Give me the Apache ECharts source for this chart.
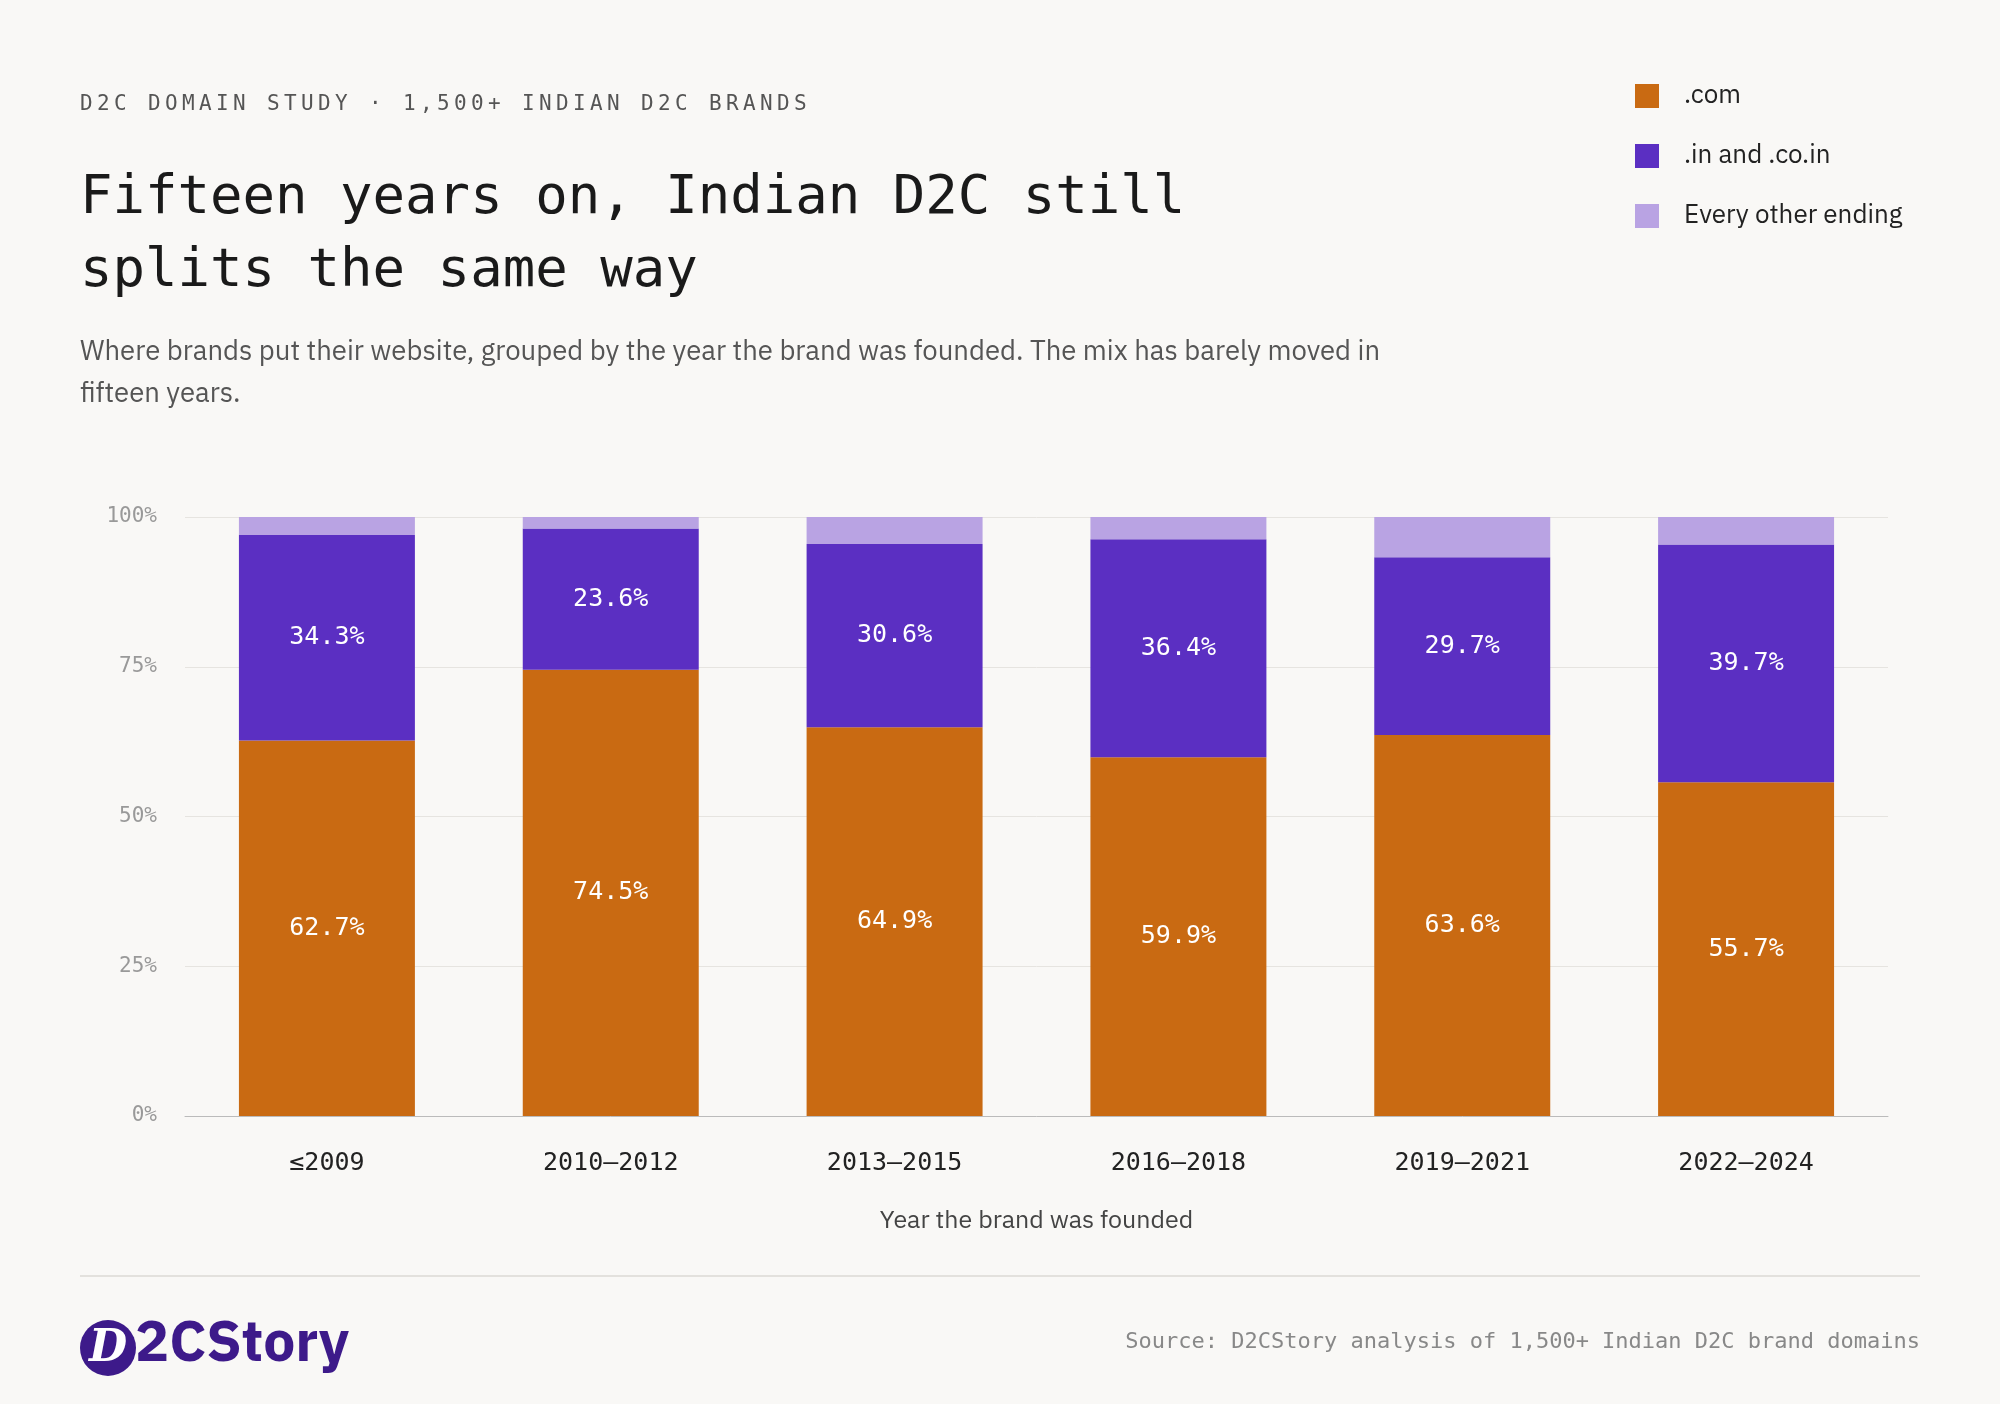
<!DOCTYPE html>
<html><head><meta charset="utf-8">
<script src="https://cdn.jsdelivr.net/npm/echarts@6/dist/echarts.min.js"></script>
<style>html,body{margin:0;padding:0;background:#f9f8f6}#c{width:2000px;height:1404px}</style>
</head><body><div id="c"></div>
<script>
const categories = ['≤2009','2010–2012','2013–2015','2016–2018','2019–2021','2022–2024'];
const comValues = [62.7,74.5,64.9,59.9,63.6,55.7];
const inValues = [34.3,23.6,30.6,36.4,29.7,39.7];
const otherValues = [3.0,1.9,4.5,3.7,6.7,4.6];
const yTicks = [0,25,50,75,100];

const mono = '"DejaVu Sans Mono", monospace';
const sans = '"IBM Plex Sans", Inter, "Noto Sans", sans-serif';
const eyebrow = 'D2C DOMAIN STUDY · 1,500+ INDIAN D2C BRANDS';
const graphics = [];
[...eyebrow].forEach((ch,i)=>graphics.push({type:'text',left:80+i*17,top:94,style:{text:ch,font:'21px '+mono,fill:'#555'}}));
graphics.push(
 {type:'text',left:80,top:162,style:{text:'Fifteen years on, Indian D2C still\nsplits the same way',font:'54px '+mono,fill:'#1a1a1a',lineHeight:73}},
 {type:'text',left:80,top:331,style:{text:'Where brands put their website, grouped by the year the brand was founded. The mix has barely moved in\nfifteen years.',font:'27.5px '+sans,fill:'#555',lineHeight:42}},
 {type:'line',shape:{x1:80,y1:1276,x2:1920,y2:1276},style:{stroke:'#e3e1dd',lineWidth:2}},
 {type:'circle',shape:{cx:108,cy:1348,r:28},style:{fill:'#3d1a8a'}},
 {type:'text',x:108,y:1350,style:{text:'D',font:'italic bold 44px "DejaVu Serif", serif',fill:'#fff',align:'center',verticalAlign:'middle'}},
 {type:'text',left:135,top:1316,style:{text:'2CStory',font:'bold 57px '+sans,fill:'#3d1a8a'}},
 {type:'text',right:80,top:1331,style:{text:'Source: D2CStory analysis of 1,500+ Indian D2C brand domains',font:'22px '+mono,fill:'#888'}}
);
const legendItems=[['.com','#c96a12'],['.in and .co.in','#5b2fc2'],['Every other ending','#b9a3e3']];
legendItems.forEach((l,i)=>{
 graphics.push({type:'rect',shape:{x:1635,y:84+i*60,width:24,height:24},style:{fill:l[1]}});
 graphics.push({type:'text',left:1684,top:82+i*60,style:{text:l[0],font:'26px '+sans,fill:'#222'}});
});
const lbl = {show:true,color:'#fff',fontFamily:mono,fontSize:25,formatter:p=>p.value.toFixed(1)+'%'};
const chart = echarts.init(document.getElementById('c'));
chart.setOption({
 backgroundColor:'#f9f8f6',
 animation:false,
 grid:{left:185,right:112,top:517,bottom:288},
 xAxis:{type:'category',data:categories,axisTick:{show:false},
  axisLine:{lineStyle:{color:'#bbb'}},
  axisLabel:{fontFamily:mono,fontSize:25,color:'#222',margin:35},
  name:'Year the brand was founded',nameLocation:'middle',nameGap:92,
  nameTextStyle:{fontFamily:sans,fontSize:25,color:'#444'}},
 yAxis:{type:'value',min:0,max:100,interval:25,
  axisLabel:{fontFamily:mono,fontSize:21,color:'#999',margin:28,formatter:v=>yTicks.includes(v)?v+'%':''},
  splitLine:{lineStyle:{color:'#e6e4e0'}},axisLine:{show:false},axisTick:{show:false}},
 series:[
  {name:'.com',type:'bar',stack:'s',data:comValues,barWidth:'62%',itemStyle:{color:'#c96a12'},label:lbl},
  {name:'.in and .co.in',type:'bar',stack:'s',data:inValues,itemStyle:{color:'#5b2fc2'},label:lbl},
  {name:'Every other ending',type:'bar',stack:'s',data:otherValues,itemStyle:{color:'#b9a3e3'}}
 ],
 graphic:graphics
});
</script></body></html>
